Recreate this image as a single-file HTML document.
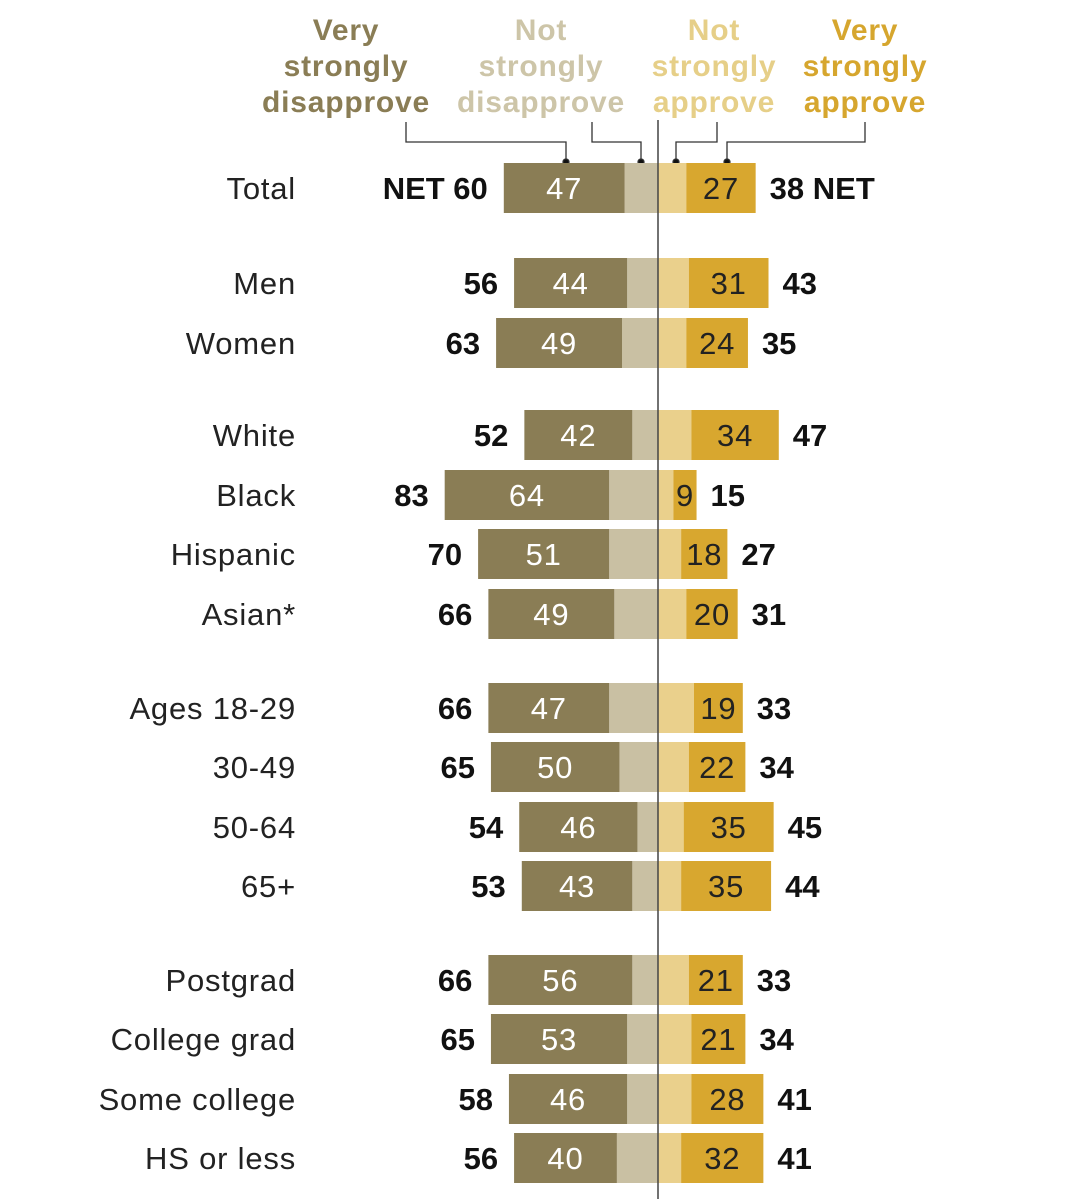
<!DOCTYPE html>
<html><head><meta charset="utf-8"><style>
html,body{margin:0;padding:0;background:#fff;}
svg{display:block;font-family:"Liberation Sans",sans-serif;}
</style></head><body>
<svg id="chart" width="1066" height="1199">
<g font-weight="bold" font-size="30" letter-spacing="0.8" text-anchor="middle">
<text x="346" y="40" fill="#8a7d55"><tspan x="346">Very</tspan><tspan x="346" dy="36">strongly</tspan><tspan x="346" dy="36">disapprove</tspan></text>
<text x="541" y="40" fill="#cdc5a8"><tspan x="541">Not</tspan><tspan x="541" dy="36">strongly</tspan><tspan x="541" dy="36">disapprove</tspan></text>
<text x="714" y="40" fill="#e6cf88"><tspan x="714">Not</tspan><tspan x="714" dy="36">strongly</tspan><tspan x="714" dy="36">approve</tspan></text>
<text x="865" y="40" fill="#d6a62e"><tspan x="865">Very</tspan><tspan x="865" dy="36">strongly</tspan><tspan x="865" dy="36">approve</tspan></text>
</g>
<g fill="none" stroke="#333" stroke-width="1.3">
<polyline points="406,122 406,142 566,142 566,162"/>
<polyline points="592,122 592,142 641,142 641,162"/>
<polyline points="717,122 717,142 676,142 676,162"/>
<polyline points="865,122 865,142 727,142 727,162"/>
<circle cx="566" cy="162" r="3" fill="#111"/><circle cx="641" cy="162" r="3" fill="#111"/>
<circle cx="676" cy="162" r="3" fill="#111"/><circle cx="727" cy="162" r="3" fill="#111"/>
</g>
<g id="bars"></g>
<line x1="658" y1="120" x2="658" y2="1199" stroke="#444" stroke-width="1.5"/>
</svg>
<script>
const categories=["Total","Men","Women","White","Black","Hispanic","Asian*","Ages 18-29","30-49","50-64","65+","Postgrad","College grad","Some college","HS or less"];
const veryDisapprove=[47,44,49,42,64,51,49,47,50,46,43,56,53,46,40];
const netDisapprove=[60,56,63,52,83,70,66,66,65,54,53,66,65,58,56];
const veryApprove=[27,31,24,34,9,18,20,19,22,35,35,21,21,28,32];
const netApprove=[38,43,35,47,15,27,31,33,34,45,44,33,34,41,41];
const rowY=[188,283,343,435,495,554,614,708,767,827,886,980,1039,1099,1158];
const cx=658,k=2.57,bh=50;
const xs=v=>v*k;
const g=document.getElementById('bars');
const NS='http://www.w3.org/2000/svg';
function mk(tag,attrs,txt){const e=document.createElementNS(NS,tag);for(const a in attrs)e.setAttribute(a,attrs[a]);if(txt!==undefined)e.textContent=txt;g.appendChild(e);return e;}
categories.forEach((c,i)=>{
 const y=rowY[i],top=y-bh/2;
 const nd=netDisapprove[i],vd=veryDisapprove[i],na=netApprove[i],va=veryApprove[i];
 let e;
 e=mk('text',{x:296,y:y+11,'font-size':31,'letter-spacing':0.8,'text-anchor':'end',fill:'#222'},c);
 
 
 e=mk('rect',{x:cx-xs(nd-vd),y:top,width:xs(nd-vd),height:bh,fill:'#c9c0a3'});
 
 
 e=mk('rect',{x:cx-xs(nd),y:top,width:xs(vd),height:bh,fill:'#8a7d55'});
 
 
 e=mk('rect',{x:cx,y:top,width:xs(na-va),height:bh,fill:'#ead08c'});
 
 
 e=mk('rect',{x:cx+xs(na-va),y:top,width:xs(va),height:bh,fill:'#d8a72f'});
 
 
 e=mk('text',{x:cx-xs(nd)+xs(vd)/2,y:y+11,'font-size':31,'letter-spacing':0.8,'text-anchor':'middle',fill:'#fff'},vd);
 
 
 e=mk('text',{x:cx+xs(na-va)+xs(va)/2,y:y+11,'font-size':31,'letter-spacing':0.8,'text-anchor':'middle',fill:'#222'},va);
 
 
 e=mk('text',{x:cx-xs(nd)-16,y:y+11,'font-size':31,'font-weight':'bold','text-anchor':'end',fill:'#111'},(i===0?'NET  ':'')+nd);
 
 
 e.setAttribute('xml:space','preserve');
 e=mk('text',{x:cx+xs(na)+14,y:y+11,'font-size':31,'font-weight':'bold','text-anchor':'start',fill:'#111'},na+(i===0?'  NET':''));
 
 
 e.setAttribute('xml:space','preserve');
});
</script>
</body></html>
